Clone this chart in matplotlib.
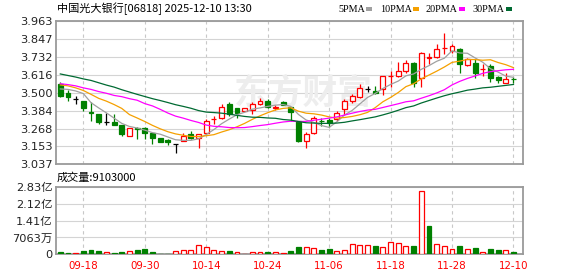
import matplotlib
matplotlib.use('Agg')
import matplotlib.pyplot as plt

# ---------------- data ----------------
dates = ['09-15', '09-16', '09-17', '09-18', '09-19', '09-22', '09-23', '09-24', '09-25', '09-26',
         '09-29', '09-30', '10-02', '10-03', '10-06', '10-08', '10-09', '10-10', '10-13', '10-14',
         '10-15', '10-16', '10-17', '10-20', '10-21', '10-22', '10-23', '10-24', '10-27', '10-28',
         '10-30', '10-31', '11-03', '11-04', '11-05', '11-06', '11-07', '11-10', '11-11', '11-12',
         '11-13', '11-14', '11-17', '11-18', '11-19', '11-20', '11-21', '11-24', '11-25', '11-26',
         '11-27', '11-28', '12-01', '12-02', '12-03', '12-04', '12-05', '12-08', '12-09', '12-10']

opens = [3.56, 3.50, 3.46, 3.45, 3.375, 3.36, 3.31, 3.31, 3.29, 3.22,
         3.27, 3.27, 3.24, 3.21, 3.195, 3.17, 3.19, 3.23, 3.21, 3.24,
         3.33, 3.34, 3.43, 3.40, 3.38, 3.39, 3.43, 3.445, 3.40, 3.44,
         3.405, 3.32, 3.185, 3.24, 3.32, 3.325, 3.328, 3.394, 3.45, 3.47,
         3.525, 3.512, 3.523, 3.610, 3.612, 3.642, 3.694, 3.594, 3.728, 3.734,
         3.788, 3.771, 3.782, 3.680, 3.695, 3.652, 3.674, 3.603, 3.562, 3.590]
highs = [3.57, 3.52, 3.48, 3.45, 3.44, 3.36, 3.37, 3.36, 3.29, 3.27,
         3.28, 3.28, 3.24, 3.21, 3.20, 3.17, 3.24, 3.25, 3.23, 3.33,
         3.35, 3.43, 3.44, 3.40, 3.40, 3.44, 3.465, 3.46, 3.42, 3.45,
         3.41, 3.32, 3.245, 3.35, 3.335, 3.34, 3.38, 3.458, 3.49, 3.555,
         3.542, 3.545, 3.609, 3.64, 3.698, 3.715, 3.70, 3.765, 3.760, 3.814,
         3.885, 3.814, 3.792, 3.728, 3.717, 3.685, 3.685, 3.609, 3.627, 3.603]
lows = [3.47, 3.45, 3.43, 3.38, 3.32, 3.30, 3.29, 3.29, 3.22, 3.22,
        3.20, 3.20, 3.17, 3.18, 3.16, 3.11, 3.19, 3.20, 3.14, 3.23,
        3.30, 3.33, 3.35, 3.34, 3.38, 3.36, 3.42, 3.40, 3.39, 3.42,
        3.32, 3.18, 3.145, 3.23, 3.285, 3.28, 3.318, 3.357, 3.432, 3.465,
        3.504, 3.495, 3.486, 3.54, 3.60, 3.627, 3.54, 3.54, 3.685, 3.728,
        3.749, 3.760, 3.627, 3.674, 3.594, 3.609, 3.573, 3.566, 3.562, 3.562]
closes = [3.48, 3.47, 3.46, 3.40, 3.37, 3.31, 3.31, 3.29, 3.23, 3.27,
          3.265, 3.24, 3.21, 3.18, 3.18, 3.17, 3.22, 3.21, 3.23, 3.32,
          3.333, 3.41, 3.36, 3.37, 3.40, 3.43, 3.45, 3.41, 3.41, 3.42,
          3.375, 3.185, 3.23, 3.335, 3.317, 3.307, 3.367, 3.446, 3.478, 3.529,
          3.525, 3.501, 3.607, 3.612, 3.642, 3.691, 3.561, 3.760, 3.730, 3.782,
          3.790, 3.803, 3.685, 3.717, 3.631, 3.655, 3.594, 3.581, 3.588, 3.588]

ma5 = [3.525, 3.522, 3.512, 3.495, 3.436, 3.402, 3.370, 3.336, 3.302, 3.282,
       3.272, 3.258, 3.242, 3.232, 3.214, 3.196, 3.192, 3.192, 3.202, 3.230,
       3.262, 3.300, 3.330, 3.358, 3.374, 3.394, 3.402, 3.412, 3.420, 3.424,
       3.412, 3.360, 3.324, 3.308, 3.288, 3.276, 3.312, 3.356, 3.386, 3.428,
       3.470, 3.496, 3.528, 3.554, 3.576, 3.610, 3.622, 3.652, 3.676, 3.704,
       3.724, 3.772, 3.758, 3.756, 3.726, 3.698, 3.656, 3.634, 3.608, 3.600]
ma10 = [3.551, 3.545, 3.532, 3.515, 3.490, 3.464, 3.446, 3.424, 3.399, 3.359,
        3.337, 3.314, 3.289, 3.267, 3.248, 3.234, 3.225, 3.217, 3.217, 3.222,
        3.229, 3.246, 3.261, 3.280, 3.302, 3.328, 3.351, 3.371, 3.389, 3.399,
        3.403, 3.381, 3.368, 3.364, 3.356, 3.344, 3.336, 3.340, 3.347, 3.358,
        3.373, 3.404, 3.442, 3.470, 3.502, 3.540, 3.559, 3.590, 3.615, 3.640,
        3.667, 3.697, 3.705, 3.716, 3.715, 3.711, 3.714, 3.696, 3.682, 3.663]
ma20 = [3.559, 3.553, 3.545, 3.532, 3.522, 3.508, 3.497, 3.483, 3.475, 3.462,
        3.452, 3.430, 3.415, 3.393, 3.369, 3.349, 3.336, 3.321, 3.308, 3.291,
        3.283, 3.280, 3.275, 3.274, 3.275, 3.281, 3.288, 3.294, 3.303, 3.311,
        3.316, 3.314, 3.315, 3.322, 3.329, 3.336, 3.344, 3.356, 3.368, 3.379,
        3.388, 3.393, 3.405, 3.417, 3.429, 3.442, 3.448, 3.465, 3.481, 3.499,
        3.520, 3.551, 3.574, 3.593, 3.609, 3.626, 3.637, 3.643, 3.649, 3.652]
ma30 = [3.622, 3.612, 3.602, 3.590, 3.580, 3.565, 3.550, 3.537, 3.520, 3.505,
        3.490, 3.476, 3.462, 3.450, 3.437, 3.423, 3.412, 3.400, 3.385, 3.375,
        3.372, 3.368, 3.362, 3.354, 3.347, 3.342, 3.341, 3.337, 3.335, 3.327,
        3.323, 3.314, 3.306, 3.304, 3.302, 3.302, 3.304, 3.309, 3.318, 3.326,
        3.335, 3.344, 3.357, 3.371, 3.387, 3.404, 3.415, 3.434, 3.450, 3.466,
        3.481, 3.494, 3.505, 3.517, 3.524, 3.532, 3.536, 3.542, 3.548, 3.554]

volumes = [9.7e6, 5.6e6, 5.6e6, 13.9e6, 18.1e6, 13.9e6, 8.4e6, 5.6e6, 9.7e6, 12.5e6,
           18.1e6, 22.3e6, 9.7e6, 2.8e6, 2.8e6, 12.5e6, 16.7e6, 16.7e6, 37.6e6, 30.6e6,
           16.7e6, 12.5e6, 13.9e6, 9.7e6, 2.8e6, 8.4e6, 8.4e6, 9.7e6, 8.4e6, 5.6e6,
           13.9e6, 30.6e6, 29.3e6, 25.1e6, 18.1e6, 22.3e6, 12.5e6, 16.7e6, 41.8e6, 39.0e6,
           39.0e6, 33.4e6, 29.3e6, 50.1e6, 46.0e6, 33.4e6, 34.8e6, 264.7e6, 118.4e6, 41.8e6,
           33.4e6, 20.9e6, 34.8e6, 20.9e6, 26.5e6, 8.4e6, 22.3e6, 18.1e6, 16.7e6, 9.103e6]
# h = red hollow, r = red filled, g = green filled
vol_style = ['g', 'g', 'r', 'g', 'g', 'g', 'h', 'g', 'g', 'h',
             'g', 'g', 'g', 'g', 'g', 'h', 'h', 'h', 'h', 'h',
             'h', 'h', 'g', 'h', 'r', 'h', 'h', 'g', 'h', 'r',
             'g', 'g', 'h', 'h', 'g', 'g', 'h', 'h', 'h', 'h',
             'h', 'g', 'h', 'h', 'h', 'h', 'g', 'h', 'g', 'h',
             'h', 'h', 'g', 'h', 'g', 'h', 'g', 'g', 'h', 'g']

price_ticks = [3.037, 3.153, 3.268, 3.384, 3.500, 3.616, 3.732, 3.847, 3.963]
price_labels = ['3.037', '3.153', '3.268', '3.384', '3.500', '3.616', '3.732', '3.847', '3.963']
vol_ticks = [0, 70630000, 141260000, 211890000, 282520000]
vol_labels = ['0', '7063万', '1.41亿', '2.12亿', '2.83亿']
date_tick_idx = [3, 11, 19, 27, 35, 43, 51, 59]

title = '中国光大银行[06818] 2025-12-10 13:30'
vol_title = '成交量:9103000'
legend_names = ['5PMA', '10PMA', '20PMA', '30PMA']

# ---------------- style ----------------
RED = '#ff0000'
GREEN = '#008000'
MA_COLORS = ['#a0a0a0', '#f5a000', '#ff00ff', '#006a32']
GRID = '#d4d4d4'
SPINE = '#9a9a9a'
FONT = ['DejaVu Sans', 'Noto Sans CJK SC']
CJK = ['Noto Sans CJK SC', 'DejaVu Sans']

W, H = 578, 276
fig = plt.figure(figsize=(W / 100, H / 100), dpi=100)


def px_rect(l, t, r, b):
    return [l / W, 1 - b / H, (r - l) / W, (b - t) / H]


ax = fig.add_axes(px_rect(56, 21.3, 522.7, 164.3))
axv = fig.add_axes(px_rect(56, 186.7, 522.7, 254.3))

n = len(closes)
xs = list(range(n))
BW = 0.64

for a in (ax, axv):
    a.set_xlim(-0.56, 60.2)
    for s in a.spines.values():
        s.set_color(SPINE)
        s.set_linewidth(1.3)
    a.set_axisbelow(True)
    a.tick_params(length=0)
    a.set_xticks(date_tick_idx)
    a.xaxis.grid(True, color='#c8c8c8', linestyle=(0, (3, 3)), linewidth=0.8)
    a.yaxis.grid(True, color=GRID, linestyle='-', linewidth=0.8)

# ---- price panel ----
ax.set_ylim(price_ticks[0], price_ticks[-1])
ax.set_yticks(price_ticks)
ax.set_yticklabels(price_labels, fontsize=8.2, color='#222222', family=FONT)
ax.tick_params(axis='y', pad=2.5)
ax.set_xticklabels([])

ax.text(0.53, 0.50, '东方财富', transform=ax.transAxes, fontsize=25, fontweight='bold',
        color='#ededed', family=CJK, ha='center', va='center', zorder=0.6)

for i in xs:
    o, h, l, c = opens[i], highs[i], lows[i], closes[i]
    if c > o:
        col = RED
    elif c < o:
        col = GREEN
    else:
        col = 'black'
    ax.vlines(i, l, h, color=col, linewidth=0.9, zorder=2)
    if c == o:
        ax.hlines(o, i - BW / 2, i + BW / 2, color=col, linewidth=0.9, zorder=3)
    else:
        ax.bar(i, abs(c - o), bottom=min(o, c), width=BW,
               facecolor='white' if c > o else GREEN, edgecolor=col,
               linewidth=0.9, zorder=3)

for ma, col in zip([ma5, ma10, ma20, ma30], MA_COLORS):
    ax.plot(xs, ma, color=col, linewidth=0.9, zorder=4)

# ---- volume panel ----
axv.set_ylim(vol_ticks[0], vol_ticks[-1])
axv.set_yticks(vol_ticks)
axv.set_yticklabels(vol_labels, fontsize=8.2, color='#222222', family=FONT)
axv.tick_params(axis='y', pad=2.5)
axv.set_xticklabels([dates[i] for i in date_tick_idx], fontsize=7.4, color=RED, family=FONT)
axv.tick_params(axis='x', pad=5)

for i in xs:
    st = vol_style[i]
    if st == 'h':
        fc, ec = 'white', RED
    elif st == 'r':
        fc, ec = RED, RED
    else:
        fc, ec = GREEN, GREEN
    axv.bar(i, volumes[i], width=BW, facecolor=fc, edgecolor=ec, linewidth=0.9, zorder=3)

# ---- texts ----
fig.text(57 / W, 1 - 8.5 / H, title, fontsize=8, family=CJK, color='black', va='center', ha='left')
fig.text(57 / W, 1 - 177.5 / H, vol_title, fontsize=8, family=CJK, color='black', va='center', ha='left')

leg_text_x = [338, 380, 425, 472]
leg_sw_x = [366, 413, 459, 506]
for name, tx, sx, col in zip(legend_names, leg_text_x, leg_sw_x, MA_COLORS):
    fig.text(tx / W, 1 - 9 / H, name, fontsize=7.3, family='Liberation Serif', color='black',
             va='center', ha='left')
    fig.patches.append(plt.Rectangle((sx / W, 1 - 10.5 / H), 5.5 / W, 3 / H,
                                     transform=fig.transFigure, facecolor=col, edgecolor='none'))

fig.savefig('out.png', dpi=100)
